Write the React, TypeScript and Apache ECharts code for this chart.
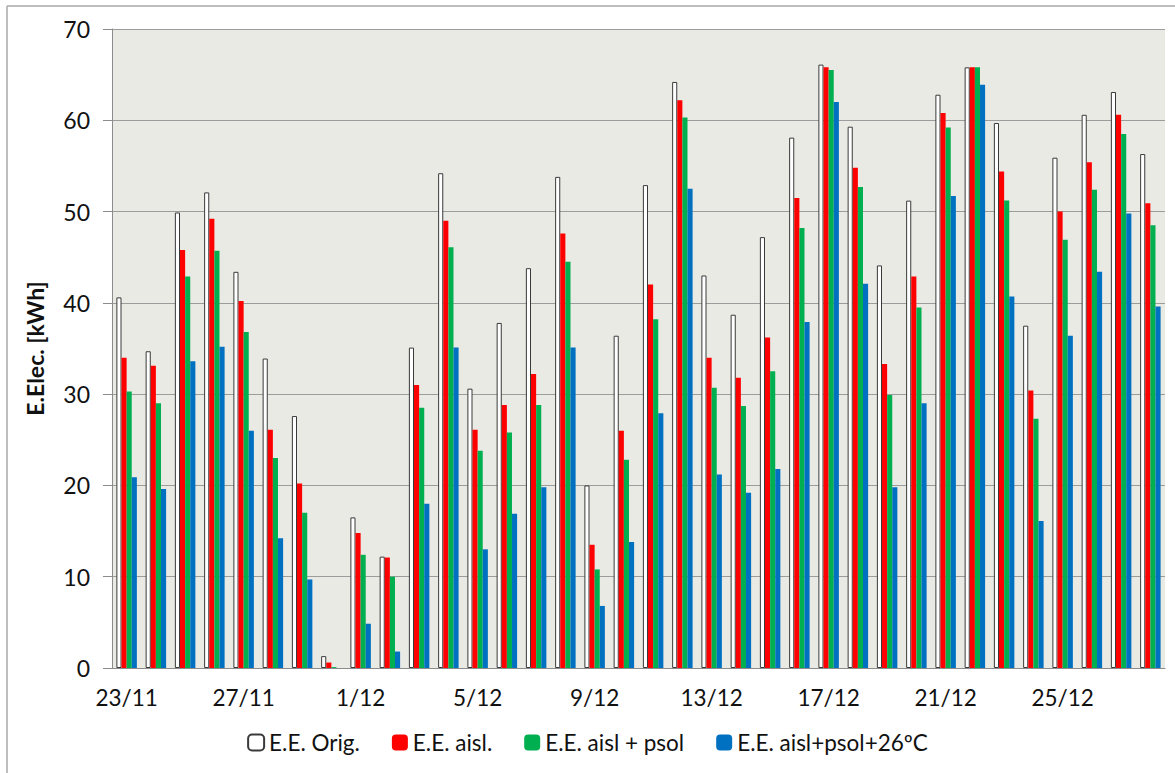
import React, { useEffect, useRef } from "react";
import * as echarts from "echarts";

const categories = [
  "23/11", "24/11", "25/11", "26/11", "27/11", "28/11", "29/11", "30/11",
  "1/12", "2/12", "3/12", "4/12", "5/12", "6/12", "7/12", "8/12",
  "9/12", "10/12", "11/12", "12/12", "13/12", "14/12", "15/12", "16/12",
  "17/12", "18/12", "19/12", "20/12", "21/12", "22/12", "23/12", "24/12",
  "25/12", "26/12", "27/12", "28/12",
];

const orig = [
  40.6, 34.7, 49.9, 52.1, 43.4, 33.9, 27.6, 1.3,
  16.5, 12.2, 35.1, 54.2, 30.6, 37.8, 43.8, 53.8,
  20.0, 36.4, 52.9, 64.2, 43.0, 38.7, 47.2, 58.1,
  66.1, 59.3, 44.1, 51.2, 62.8, 65.8, 59.7, 37.5,
  55.9, 60.6, 63.1, 56.3,
];
const aisl = [
  34.0, 33.1, 45.8, 49.2, 40.2, 26.1, 20.2, 0.6,
  14.8, 12.1, 31.0, 49.0, 26.1, 28.8, 32.2, 47.6,
  13.5, 26.0, 42.0, 62.2, 34.0, 31.8, 36.2, 51.5,
  65.8, 54.8, 33.3, 42.9, 60.8, 65.8, 54.4, 30.4,
  50.0, 55.4, 60.6, 50.9,
];
const aislPsol = [
  30.3, 29.0, 42.9, 45.7, 36.8, 23.0, 17.0, 0.1,
  12.4, 10.0, 28.5, 46.1, 23.8, 25.8, 28.8, 44.5,
  10.8, 22.8, 38.2, 60.3, 30.7, 28.7, 32.5, 48.2,
  65.5, 52.7, 29.9, 39.5, 59.2, 65.8, 51.2, 27.3,
  46.9, 52.4, 58.5, 48.5,
];
const aislPsol26 = [
  20.9, 19.6, 33.6, 35.2, 26.0, 14.2, 9.7, 0,
  4.85, 1.8, 18.0, 35.1, 13.0, 16.9, 19.8, 35.1,
  6.8, 13.8, 27.9, 52.5, 21.2, 19.2, 21.8, 37.9,
  62.0, 42.1, 19.8, 29.0, 51.7, 63.9, 40.7, 16.1,
  36.4, 43.4, 49.8, 39.6,
];

const seriesNames = ["E.E. Orig.", "E.E. aisl.", "E.E. aisl + psol", "E.E. aisl+psol+26ºC"];
const yTicks = { min: 0, max: 70, interval: 10 };

const FONT = "Lato, 'Open Sans', sans-serif";

export default function App() {
  const ref = useRef<HTMLDivElement>(null);
  useEffect(() => {
    if (!ref.current) return;
    const chart = echarts.init(ref.current, null, { renderer: "svg" });
    const barBase = { type: "bar", barGap: "0%", barCategoryGap: "30%" };
    chart.setOption({
      animation: false,
      backgroundColor: "#ffffff",
      textStyle: { fontFamily: FONT },
      graphic: [
        { type: "line", shape: { x1: 7, y1: 6, x2: 1175, y2: 6 }, style: { stroke: "#a8a8a8", lineWidth: 1.5 } },
        { type: "line", shape: { x1: 7, y1: 6, x2: 7, y2: 773 }, style: { stroke: "#a8a8a8", lineWidth: 1.5 } },
      ],
      grid: {
        left: 112,
        right: 10,
        top: 29,
        bottom: 105,
        show: true,
        backgroundColor: "#EAEAE4",
        borderWidth: 0,
      },
      legend: {
        bottom: 14,
        left: "center",
        itemWidth: 16,
        itemHeight: 16,
        itemGap: 32,
        textStyle: { fontSize: 22.5, color: "#111", fontFamily: FONT },
        data: seriesNames,
      },
      xAxis: {
        type: "category",
        data: categories,
        axisLine: { lineStyle: { color: "#8c8c8c", width: 1 } },
        axisTick: { interval: 3, length: 7, lineStyle: { color: "#8c8c8c" } },
        axisLabel: { interval: 3, fontSize: 22.5, color: "#111", margin: 18, fontFamily: FONT },
      },
      yAxis: {
        type: "value",
        min: yTicks.min,
        max: yTicks.max,
        interval: yTicks.interval,
        name: "E.Elec. [kWh]",
        nameLocation: "middle",
        nameGap: 66,
        nameTextStyle: { fontSize: 23, fontWeight: "bold", color: "#111", fontFamily: FONT },
        axisLine: { show: true, lineStyle: { color: "#8c8c8c", width: 1 } },
        axisTick: { show: true, length: 9, lineStyle: { color: "#8c8c8c" } },
        axisLabel: { fontSize: 23, color: "#111", margin: 22, fontFamily: FONT },
        splitLine: { lineStyle: { color: "#9c9c9c", width: 1 } },
      },
      series: [
        { ...barBase, name: seriesNames[0], data: orig, itemStyle: { color: "#ffffff", borderColor: "#3a3a3a", borderWidth: 1 } },
        { ...barBase, name: seriesNames[1], data: aisl, itemStyle: { color: "#FF0000" } },
        { ...barBase, name: seriesNames[2], data: aislPsol, itemStyle: { color: "#00B050" } },
        { ...barBase, name: seriesNames[3], data: aislPsol26, itemStyle: { color: "#0070C0" } },
      ],
    });
    return () => chart.dispose();
  }, []);
  return (
    <div
      ref={ref}
      style={{ position: "absolute", left: 0, top: 0, width: 1175, height: 773 }}
    />
  );
}
